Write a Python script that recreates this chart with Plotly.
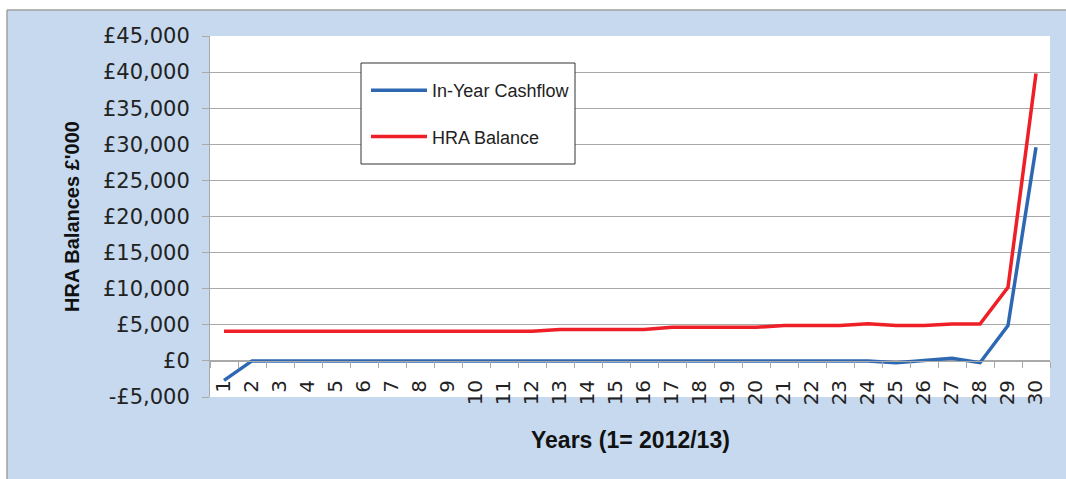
import plotly.graph_objects as go

years = [str(i) for i in range(1, 31)]
in_year_cashflow = [-2700, 0, 0, 0, 0, 0, 0, 0, 0, 0,
                    0, 0, 0, 0, 0, 0, 0, 0, 0, 0,
                    0, 0, 0, 0, -250, 50, 350, -250, 4900, 29600]
hra_balance = [4100, 4100, 4100, 4100, 4100, 4100, 4100, 4100, 4100, 4100,
               4100, 4100, 4350, 4350, 4350, 4350, 4650, 4650, 4650, 4650,
               4900, 4900, 4900, 5150, 4900, 4900, 5100, 5100, 10200, 39800]
y_tick_vals = [-5000, 0, 5000, 10000, 15000, 20000, 25000, 30000, 35000, 40000, 45000]
y_tick_text = ["-£5,000", "£0", "£5,000", "£10,000", "£15,000", "£20,000",
               "£25,000", "£30,000", "£35,000", "£40,000", "£45,000"]

BG = "#C6D9EE"
GRID = "#A9A9A9"
BORDER = "#A0A0A0"

fig = go.Figure()
fig.add_trace(go.Scatter(x=years, y=in_year_cashflow, mode="lines", name="In-Year Cashflow",
                         line=dict(color="#2F68B2", width=3.5), legendgroup="a"))
fig.add_trace(go.Scatter(x=years, y=hra_balance, mode="lines", name="HRA Balance",
                         line=dict(color="#EE1F27", width=3.5), legendgroup="b"))

L, R, T, B = 210, 1050, 36, 397
W, H = R - L, B - T

def px(xp):
    return (xp - L) / W

def py(yp):
    return (B - yp) / H

shapes = [
    dict(type="rect", xref="paper", yref="paper", x0=px(-20), x1=px(1100), y0=py(10), y1=py(-20),
         fillcolor="white", line=dict(width=0), layer="above"),
    dict(type="rect", xref="paper", yref="paper", x0=px(-20), x1=px(7), y0=py(500), y1=py(-20),
         fillcolor="white", line=dict(width=0), layer="above"),
    dict(type="line", xref="paper", yref="paper", x0=px(7), x1=px(1100), y0=py(10), y1=py(10),
         line=dict(color=BORDER, width=1.5), layer="above"),
    dict(type="line", xref="paper", yref="paper", x0=px(7), x1=px(7), y0=py(10), y1=py(500),
         line=dict(color=BORDER, width=1.5), layer="above"),
    # legend box
    dict(type="rect", xref="paper", yref="paper", x0=px(361), x1=px(575), y0=py(164), y1=py(63),
         fillcolor="white", line=dict(color="#333333", width=1), layer="above"),
]

fig.update_layout(
    width=1066, height=479,
    margin=dict(l=L, r=1066 - R, t=T, b=479 - B, autoexpand=False),
    paper_bgcolor=BG, plot_bgcolor="white",
    shapes=shapes,
    showlegend=True,
    legend=dict(x=px(366), y=py(72), xanchor="left", yanchor="top",
                bgcolor="rgba(0,0,0,0)", borderwidth=0,
                font=dict(family="Liberation Sans, Arial, sans-serif", size=18, color="#222222"),
                itemwidth=56, tracegroupgap=20, traceorder="grouped"),
    xaxis=dict(type="category", range=[-0.5, 29.5], anchor="free", position=0.1,
               automargin=False,
               showgrid=False, showline=True, linecolor=GRID, linewidth=1,
               ticks="outside", tickson="boundaries", ticklen=6, tickcolor=GRID,
               tickangle=-90, ticklabelstandoff=10,
               tickfont=dict(family="DejaVu Sans", size=20, color="#222222"),
               title=None, zeroline=False),
    yaxis=dict(range=[-5000, 45000], tickvals=y_tick_vals, ticktext=y_tick_text,
               automargin=False,
               showgrid=True, gridcolor=GRID, gridwidth=1,
               showline=True, linecolor=GRID, linewidth=1,
               ticks="outside", ticklen=7, tickcolor=GRID, ticklabelstandoff=8,
               tickfont=dict(family="DejaVu Sans", size=21, color="#222222"),
               zeroline=True, zerolinecolor=GRID, zerolinewidth=1,
               title=dict(text="HRA Balances £'000", standoff=17,
                          font=dict(family="Liberation Sans, Arial, sans-serif", size=20, color="#111111", weight="bold"))),
    annotations=[dict(text="<b>Years (1= 2012/13)</b>", xref="paper", yref="paper",
                      x=0.5, y=py(440), xanchor="center", yanchor="middle", showarrow=False,
                      font=dict(family="Liberation Sans, Arial, sans-serif", size=23, color="#111111"))],
)

fig.write_html("out.html")
